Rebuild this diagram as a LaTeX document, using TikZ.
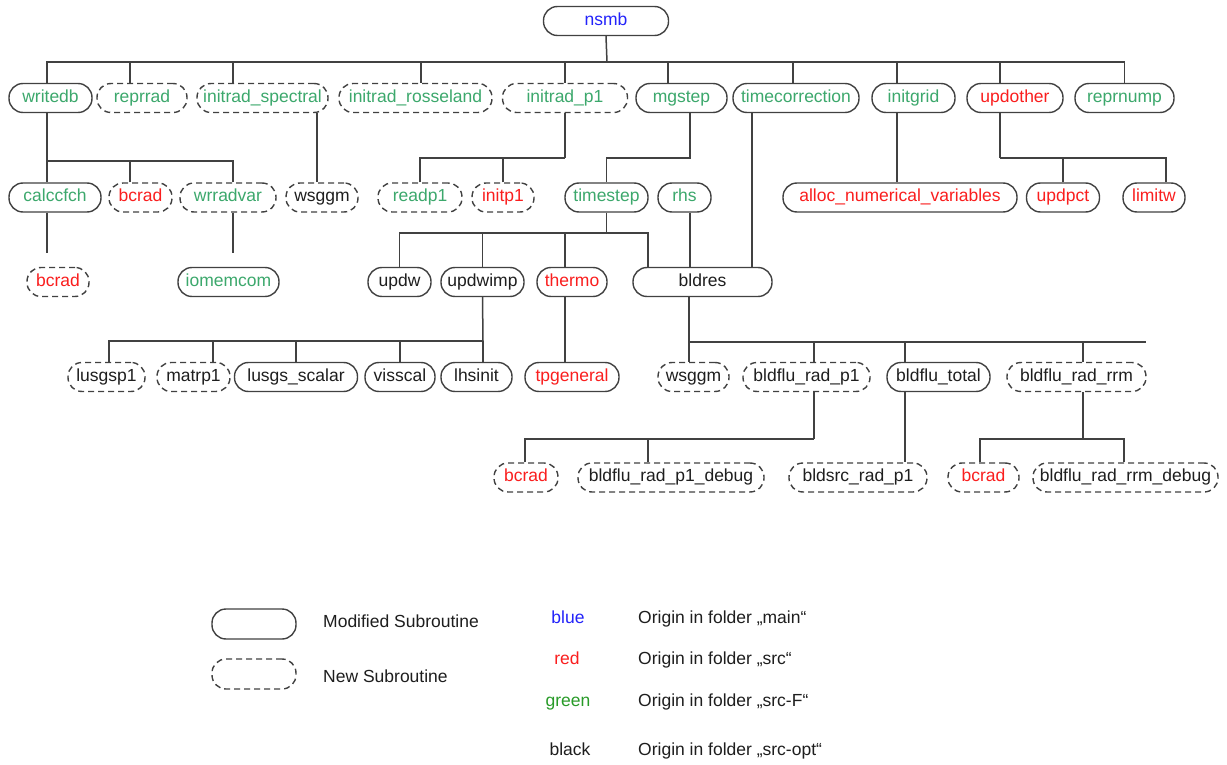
\documentclass[tikz,border=0pt]{standalone}
\usepackage{fontspec}
\setmainfont{Liberation Sans}
\definecolor{ngreen}{RGB}{60,168,108}
\definecolor{lgreen}{RGB}{40,155,40}
\definecolor{nred}{RGB}{250,30,30}
\definecolor{nblue}{RGB}{35,35,250}
\definecolor{lc}{RGB}{65,65,65}
\definecolor{tblack}{RGB}{30,30,30}
\tikzset{
  box/.style={rectangle, rounded corners=14pt, minimum height=29pt, inner sep=0pt,
    text height=12.5pt, text depth=3.7pt,
    line width=1.4pt, font=\fontsize{17.5}{21}\selectfont},
  mod/.style={box, draw=lc, solid},
  new/.style={box, draw=lc, dash pattern=on 6pt off 4pt},
  conn/.style={draw=lc, line width=1.5pt},
  ltext/.style={font=\fontsize{17.5}{21}\selectfont, text=tblack, inner sep=0pt,
    text height=12.5pt, text depth=3.7pt}
}
\begin{document}
\begin{tikzpicture}[x=1pt,y=-1pt]
\useasboundingbox[fill=white] (0,0) rectangle (1227,765);
% row 0
\node[mod, text=nblue, minimum width=125pt] (nsmb) at (606,21) {nsmb};
% row 1
\node[mod, text=ngreen, minimum width=83pt]  (writedb) at (50.5,98) {writedb};
\node[new, text=ngreen, minimum width=90pt]  (reprrad) at (142,98) {reprrad};
\node[new, text=ngreen, minimum width=131pt] (initspec) at (262.5,98) {initrad\_spectral};
\node[new, text=ngreen, minimum width=153pt] (initross) at (415.5,98) {initrad\_rosseland};
\node[new, text=ngreen, minimum width=125pt] (initp1top) at (565,98) {initrad\_p1};
\node[mod, text=ngreen, minimum width=91pt]  (mgstep) at (681.5,98) {mgstep};
\node[mod, text=ngreen, minimum width=126pt] (timecorr) at (796,98) {timecorrection};
\node[mod, text=ngreen, minimum width=83pt]  (initgrid) at (913.5,98) {initgrid};
\node[mod, text=nred,   minimum width=96pt]  (updother) at (1015,98) {updother};
\node[mod, text=ngreen, minimum width=99pt]  (reprnump) at (1124.5,98) {reprnump};
% row 2
\node[mod, text=ngreen, minimum width=92pt]  (calccfch) at (55,197.5) {calccfch};
\node[new, text=nred,   minimum width=63pt]  (bcradA) at (140.5,197.5) {bcrad};
\node[new, text=ngreen, minimum width=96pt]  (wrradvar) at (228,197.5) {wrradvar};
\node[new, text=tblack, minimum width=72pt]  (wsggmA) at (322,197.5) {wsggm};
\node[new, text=ngreen, minimum width=84pt]  (readp1) at (420,197.5) {readp1};
\node[new, text=nred,   minimum width=62pt]  (initp1) at (503,197.5) {initp1};
\node[mod, text=ngreen, minimum width=83pt]  (timestep) at (606.5,197.5) {timestep};
\node[mod, text=ngreen, minimum width=53pt]  (rhs) at (684.5,197.5) {rhs};
\node[mod, text=nred,   minimum width=234pt] (alloc) at (900,197.5) {alloc\_numerical\_variables};
\node[mod, text=nred,   minimum width=73pt]  (updpct) at (1063,197.5) {updpct};
\node[mod, text=nred,   minimum width=62pt]  (limitw) at (1154,197.5) {limitw};
% row 3
\node[new, text=nred,   minimum width=62pt]  (bcradB) at (58,282) {bcrad};
\node[mod, text=ngreen, minimum width=101pt] (iomemcom) at (228.5,282) {iomemcom};
\node[mod, text=tblack, minimum width=63pt]  (updw) at (399.5,282) {updw};
\node[mod, text=tblack, minimum width=83pt]  (updwimp) at (482.5,282) {updwimp};
\node[mod, text=nred,   minimum width=70pt]  (thermo) at (572,282) {thermo};
\node[mod, text=tblack, minimum width=139pt] (bldres) at (702.5,282) {bldres};
% row 4
\node[new, text=tblack, minimum width=77pt]  (lusgsp1) at (106.5,377) {lusgsp1};
\node[new, text=tblack, minimum width=73pt]  (matrp1) at (193.5,377) {matrp1};
\node[mod, text=tblack, minimum width=123pt] (lusgss) at (296,377) {lusgs\_scalar};
\node[mod, text=tblack, minimum width=70pt]  (visscal) at (400,377) {visscal};
\node[mod, text=tblack, minimum width=71pt]  (lhsinit) at (476.5,377) {lhsinit};
\node[mod, text=nred,   minimum width=94pt]  (tpgeneral) at (572,377) {tpgeneral};
\node[new, text=tblack, minimum width=71pt]  (wsggmB) at (693.5,377) {wsggm};
\node[new, text=tblack, minimum width=127pt] (bfrp1) at (806.5,377) {bldflu\_rad\_p1};
\node[mod, text=tblack, minimum width=103pt] (bftotal) at (938.5,377) {bldflu\_total};
\node[new, text=tblack, minimum width=139pt] (bfrrm) at (1076.5,377) {bldflu\_rad\_rrm};
% row 5
\node[new, text=nred,   minimum width=64pt]  (bcradC) at (526,477.5) {bcrad};
\node[new, text=tblack, minimum width=186pt] (bfrp1dbg) at (671,477.5) {bldflu\_rad\_p1\_debug};
\node[new, text=tblack, minimum width=138pt] (bsrp1) at (858,477.5) {bldsrc\_rad\_p1};
\node[new, text=nred,   minimum width=71pt]  (bcradD) at (983.5,477.5) {bcrad};
\node[new, text=tblack, minimum width=185pt] (bfrrmdbg) at (1125.5,477.5) {bldflu\_rad\_rrm\_debug};

% bus coordinates
\coordinate (b0) at (607,62);
\coordinate (b1) at (47,161);
\coordinate (b2) at (565,158);
\coordinate (b4) at (1000,158);
\coordinate (b5) at (606.5,233);
\coordinate (b6) at (483,341);
\coordinate (b7) at (689,342);
\coordinate (busend) at (1146,342);
\coordinate (b8) at (814,439);
\coordinate (b9) at (1083,439);

% nsmb tree
\draw[conn] (nsmb.south) -- (b0);
\draw[conn] ([xshift=-3.5pt]writedb.north) |- (b0);
\draw[conn] ([xshift=-12pt]reprrad.north) |- (b0);
\draw[conn] ([xshift=-29.5pt]initspec.north) |- (b0);
\draw[conn] ([xshift=5.5pt]initross.north) |- (b0);
\draw[conn] (initp1top.north) |- (b0);
\draw[conn] ([xshift=-13.5pt]mgstep.north) |- (b0);
\draw[conn] ([xshift=-3pt]timecorr.north) |- (b0);
\draw[conn] ([xshift=-16.5pt]initgrid.north) |- (b0);
\draw[conn] ([xshift=-15pt]updother.north) |- (b0);
\draw[conn] (reprnump.north) |- (b0);

% writedb
\draw[conn] ([xshift=-3.5pt]writedb.south) -- ([xshift=-8pt]calccfch.north);
\draw[conn] ([xshift=-10.5pt]bcradA.north) |- (b1);
\draw[conn] ([xshift=5pt]wrradvar.north) |- (b1);
% initrad_spectral
\draw[conn] ([xshift=54.5pt]initspec.south) -- ([xshift=-5pt]wsggmA.north);
% calccfch, wrradvar (free ends)
\draw[conn, shorten >=14pt] ([xshift=-8pt]calccfch.south) -- ([xshift=-8pt]calccfch.south |- bcradB.north);
\draw[conn, shorten >=14pt] ([xshift=5pt]wrradvar.south) -- ([xshift=5pt]wrradvar.south |- iomemcom.north);
% initrad_p1
\draw[conn] (initp1top.south) -- (b2);
\draw[conn] (readp1.north) |- (b2);
\draw[conn] (initp1.north) |- (b2);
% mgstep
\draw[conn] ([xshift=8.5pt]mgstep.south) -- ++(0,45) -| (timestep.north);
% timecorrection
\draw[conn] ([xshift=-44pt]timecorr.south) -- ([xshift=49.5pt]bldres.north);
% initgrid
\draw[conn] ([xshift=-16.5pt]initgrid.south) -- ([xshift=-3pt]alloc.north);
% updother
\draw[conn] ([xshift=-15pt]updother.south) -- (b4);
\draw[conn] (updpct.north) |- (b4);
\draw[conn] ([xshift=12pt]limitw.north) |- (b4);
% timestep
\draw[conn] (timestep.south) -- (b5);
\draw[conn] (updw.north) |- (b5);
\draw[conn] (updwimp.north) |- (b5);
\draw[conn] ([xshift=-7pt]thermo.north) |- (b5);
\draw[conn] ([xshift=-54.5pt]bldres.north) |- (b5);
% rhs
\draw[conn] ([xshift=5.5pt]rhs.south) -- ([xshift=-12.5pt]bldres.north);
% updwimp
\draw[conn] (updwimp.south) -- (b6);
\draw[conn] ([xshift=2.5pt]lusgsp1.north) |- (b6);
\draw[conn] ([xshift=19.5pt]matrp1.north) |- (b6);
\draw[conn] (lusgss.north) |- (b6);
\draw[conn] (visscal.north) |- (b6);
\draw[conn] ([xshift=6.5pt]lhsinit.north) |- (b6);
% thermo
\draw[conn] ([xshift=-7pt]thermo.south) -- ([xshift=-7pt]tpgeneral.north);
% bldres
\draw[conn] ([xshift=-13.5pt]bldres.south) -- (b7) -- (busend);
\draw[conn] ([xshift=-4.5pt]wsggmB.north) |- (b7);
\draw[conn] ([xshift=7.5pt]bfrp1.north) |- (b7);
\draw[conn] ([xshift=-33.5pt]bftotal.north) |- (b7);
\draw[conn] ([xshift=6.5pt]bfrrm.north) |- (b7);
% bldflu_rad_p1
\draw[conn] ([xshift=7.5pt]bfrp1.south) -- (b8);
\draw[conn] ([xshift=-1pt]bcradC.north) |- (b8);
\draw[conn] ([xshift=-23pt]bfrp1dbg.north) |- (b8);
% bldflu_total
\draw[conn] ([xshift=-33.5pt]bftotal.south) -- ([xshift=47pt]bsrp1.north);
% bldflu_rad_rrm
\draw[conn] ([xshift=6.5pt]bfrrm.south) -- (b9);
\draw[conn] ([xshift=-3.5pt]bcradD.north) |- (b9);
\draw[conn] ([xshift=-1.5pt]bfrrmdbg.north) |- (b9);

% legend
\node[mod, minimum width=84pt, minimum height=30pt] (lmod) at (254,624) {};
\node[new, minimum width=84pt, minimum height=30pt] (lnew) at (254,674) {};
\node[ltext, anchor=west] (tmod) at (323,623) {Modified Subroutine};
\node[ltext, anchor=west] (tnew) at (323,678) {New Subroutine};
\node[ltext, text=nblue] (cblue) at (568,619) {blue};
\node[ltext, text=nred] (cred) at (567,660) {red};
\node[ltext, text=lgreen] (cgreen) at (568,702) {green};
\node[ltext] (cblack) at (570,751) {black};
\node[ltext, anchor=west] (omain) at (638,619) {Origin in folder „main“};
\node[ltext, anchor=west] (osrc) at (638,660) {Origin in folder „src“};
\node[ltext, anchor=west] (osrcf) at (638,702) {Origin in folder „src-F“};
\node[ltext, anchor=west] (osrcopt) at (638,751) {Origin in folder „src-opt“};
\end{tikzpicture}
\end{document}
